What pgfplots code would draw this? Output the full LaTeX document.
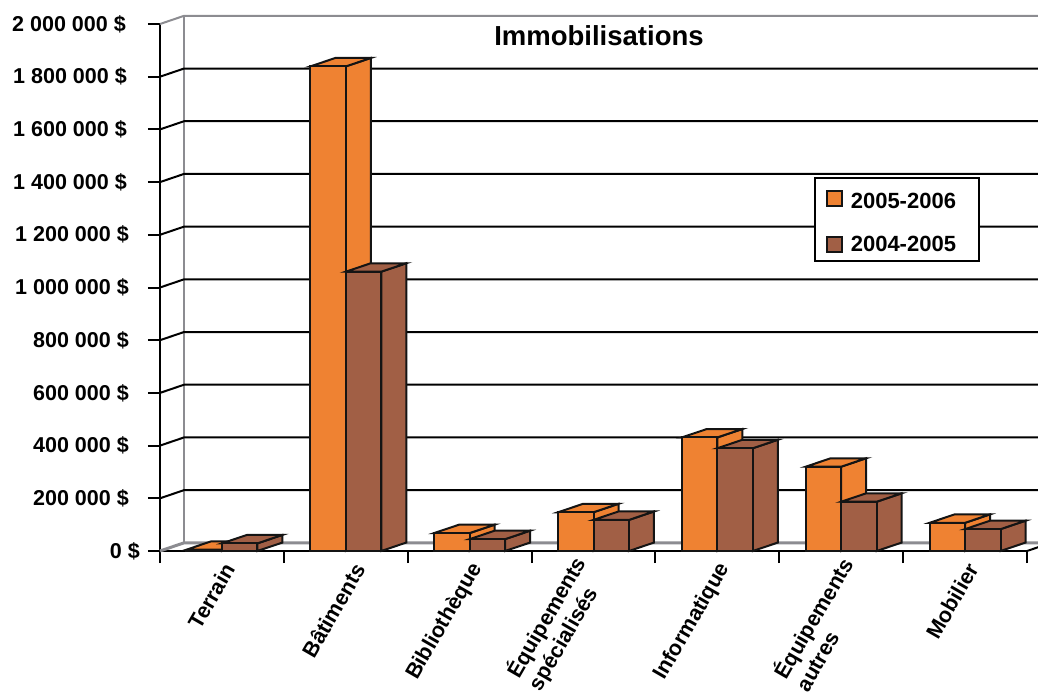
\documentclass[border=0pt]{standalone}
\usepackage{fontspec}
\setmainfont{Liberation Sans}
\usepackage{pgfplots}
\pgfplotsset{compat=1.18}
\definecolor{orangebar}{RGB}{239,130,50}
\definecolor{brownbar}{RGB}{161,95,69}
\definecolor{wallgray}{RGB}{140,140,145}
\definecolor{edge}{RGB}{20,20,20}
% side and top faces of a 3D bar: #1 left of the front face, #2 value in dollars, #3 colour
\newcommand{\faces}[3]{%
  \pgfmathsetmacro{\xa}{#1}%
  \pgfmathsetmacro{\xb}{#1+0.2865}%
  \pgfmathsetmacro{\xc}{#1+0.2865+0.2018}%
  \pgfmathsetmacro{\xd}{#1+0.2018}%
  \edef\yt{\the\numexpr #2+32000\relax}%
  \addplot[forget plot,fill=#3,draw=edge,line width=2pt] coordinates {(\xb,0) (\xc,32000) (\xc,\yt) (\xb,#2)} -- cycle;
  \addplot[forget plot,fill=#3,draw=edge,line width=2pt] coordinates {(#1,#2) (\xb,#2) (\xc,\yt) (\xd,\yt)} -- cycle;
}
\newcommand{\gridl}[2]{%
  \edef\yt{\the\numexpr #1+31000\relax}%
  \addplot[forget plot,draw=#2,line width=2pt] coordinates {(0,#1) (0.1938,\yt) (8,\yt)};
}
\begin{document}
\begin{tikzpicture}[x=1pt,y=1pt]
\path[clip,use as bounding box] (0,0) rectangle (1038,691);
\begin{axis}[
  at={(160pt,140pt)},anchor=south west,
  scale only axis,width=867pt,height=527pt,
  xmin=0,xmax=7,ymin=0,ymax=2000000,
  clip=false,
  axis y line*=left,axis x line*=bottom,
  axis line style={line width=2pt,black},
  tick align=outside,
  major tick length=12pt,minor tick length=12pt,
  tick style={black,line width=2pt},
  ytick={0,200000,400000,600000,800000,1000000,1200000,1400000,1600000,1800000,2000000},
  yticklabels={{0 \$\kern-11pt},{200 000 \$},{400 000 \$},{600 000 \$},{800 000 \$},{1 000 000 \$},{1 200 000 \$},{1 400 000 \$\kern2pt},{1 600 000 \$\kern2pt},{1 800 000 \$\kern2pt},{2 000 000 \$\kern3pt}},
  yticklabel style={font=\fontsize{21.5pt}{24pt}\selectfont\bfseries,anchor=east,inner sep=0pt,xshift=-19pt},
  scaled y ticks=false,
  xtick={0.5,1.55,2.5,3.42,4.5,5.565,6.5},
  minor xtick={0,1,2,3,4,5,6,7},
  major x tick style={draw=none},
  xticklabels={Terrain,Bâtiments,Bibliothèque,{Équipements\\spécialisés},Informatique,{Équipements\\autres},Mobilier},
  xticklabel style={font=\fontsize{21.5pt}{25pt}\selectfont\bfseries,rotate=60,anchor=east,align=left,inner sep=0pt,xshift=2pt,yshift=-7.7pt},
  title={Immobilisations},
  title style={at={(rel axis cs:0.5063,0.966)},anchor=center,font=\fontsize{27.5pt}{30pt}\selectfont\bfseries,inner sep=0pt},
  legend style={at={(rel axis cs:0.9458,0.7097)},anchor=north east,draw=black,line width=2pt,fill=white,
    font=\fontsize{22pt}{24pt}\selectfont\bfseries,inner xsep=11pt,inner ysep=6.5pt,row sep=22pt,
    legend cell align=left},
  legend image code/.code={\draw[#1,line width=1.6pt] (0pt,-7.5pt) rectangle (15pt,7.5pt);},
]
% walls and grid
\addplot[forget plot,draw=wallgray,line width=2.5pt] coordinates {(0.1938,31000) (0.1938,2031000)};
\addplot[forget plot,draw=wallgray,line width=3pt] coordinates {(0,0) (0.1938,31000) (8,31000)};
\gridl{2000000}{wallgray}
\gridl{200000}{black}
\gridl{400000}{black}
\gridl{600000}{black}
\gridl{800000}{black}
\gridl{1000000}{black}
\gridl{1200000}{black}
\gridl{1400000}{black}
\gridl{1600000}{black}
\gridl{1800000}{black}
\addplot[forget plot,draw=black,line width=2pt] coordinates {(7,0) (7.1938,31000)};
% 2005-2006
\faces{0.2135}{5000}{orangebar}
\faces{1.2135}{1839000}{orangebar}
\faces{2.2135}{68000}{orangebar}
\faces{3.2135}{147000}{orangebar}
\faces{4.2135}{431000}{orangebar}
\faces{5.2135}{320000}{orangebar}
\faces{6.2135}{107000}{orangebar}
\addplot[ybar,bar width=35.5pt,bar shift=-17.75pt,fill=orangebar,draw=edge,line width=2pt]
  coordinates {(0.5,5000) (1.5,1839000) (2.5,68000) (3.5,147000) (4.5,431000) (5.5,320000) (6.5,107000)};
\addlegendentry{\kern6pt\rule{0pt}{22pt}2005-2006\kern10pt}
% 2004-2005
\faces{0.5}{29000}{brownbar}
\faces{1.5}{1060000}{brownbar}
\faces{2.5}{45000}{brownbar}
\faces{3.5}{118000}{brownbar}
\faces{4.5}{390000}{brownbar}
\faces{5.5}{187000}{brownbar}
\faces{6.5}{83000}{brownbar}
\addplot[ybar,bar width=35.5pt,bar shift=17.75pt,fill=brownbar,draw=edge,line width=2pt]
  coordinates {(0.5,29000) (1.5,1060000) (2.5,45000) (3.5,118000) (4.5,390000) (5.5,187000) (6.5,83000)};
\addlegendentry{\kern6pt 2004-2005\kern10pt}
\end{axis}
\end{tikzpicture}
\end{document}
